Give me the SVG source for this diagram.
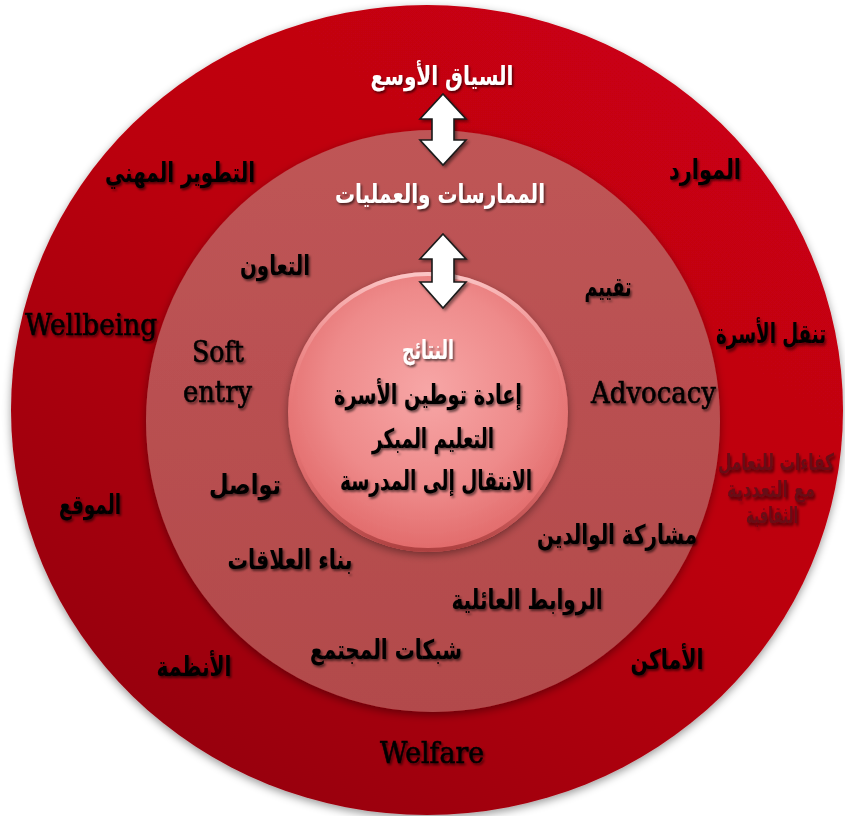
<svg xmlns="http://www.w3.org/2000/svg" width="845" height="816" viewBox="0 0 845 816">
<defs>
<style>
.ar{font-family:"DejaVu Sans",sans-serif;font-weight:bold;font-size:27px;text-anchor:middle;fill:#000;filter:url(#ts)}
.arw{font-family:"DejaVu Sans",sans-serif;font-weight:bold;font-size:26px;text-anchor:middle;fill:#fff;filter:url(#tsw)}
.en{font-family:"DejaVu Serif",serif;font-size:29px;fill:#000;stroke:#000;stroke-width:0.6;filter:url(#ts)}
.cf{font-family:"DejaVu Sans",sans-serif;font-weight:bold;font-size:17px;text-anchor:middle;fill:#680a14;filter:url(#ts)}
.arrow{fill:#fff;stroke:#1a1a1a;stroke-width:1.6;stroke-linejoin:miter;filter:url(#as)}
</style>
<linearGradient id="gOuter" x1="0.8" y1="0.1" x2="0.2" y2="0.9">
<stop offset="0" stop-color="#c90512"/>
<stop offset="0.45" stop-color="#bb0310"/>
<stop offset="1" stop-color="#980010"/>
</linearGradient>
<linearGradient id="gMid" x1="0" y1="0" x2="0" y2="1">
<stop offset="0" stop-color="#bf5556"/>
<stop offset="1" stop-color="#b24a4b"/>
</linearGradient>
<radialGradient id="gIn" cx="0.5" cy="0.42" r="0.6">
<stop offset="0" stop-color="#f7a6a6"/>
<stop offset="0.6" stop-color="#ee8a8a"/>
<stop offset="1" stop-color="#e06767"/>
</radialGradient>
<linearGradient id="gRim" x1="0" y1="0" x2="0" y2="1">
<stop offset="0" stop-color="#ffd6d6" stop-opacity="0.8"/>
<stop offset="0.5" stop-color="#f08080" stop-opacity="0"/>
<stop offset="1" stop-color="#a83c3c" stop-opacity="0.9"/>
</linearGradient>
<filter id="ts" x="-10%" y="-30%" width="130%" height="180%">
<feDropShadow dx="1.5" dy="2" stdDeviation="1.2" flood-color="#000" flood-opacity="0.55"/>
</filter>
<filter id="tsw" x="-10%" y="-30%" width="130%" height="180%">
<feDropShadow dx="1.5" dy="2" stdDeviation="1.2" flood-color="#000" flood-opacity="0.6"/>
</filter>
<filter id="as" x="-40%" y="-20%" width="180%" height="150%">
<feDropShadow dx="2" dy="2" stdDeviation="1.5" flood-color="#000" flood-opacity="0.45"/>
</filter>
<filter id="cs" x="-10%" y="-10%" width="120%" height="120%">
<feDropShadow dx="0" dy="3" stdDeviation="4" flood-color="#000" flood-opacity="0.4"/>
</filter>
</defs>

<g id="rings">
<ellipse cx="427" cy="410" rx="416" ry="405" fill="url(#gOuter)" filter="url(#cs)"/>
<ellipse cx="433" cy="421" rx="287" ry="291" fill="url(#gMid)" filter="url(#cs)"/>
<circle cx="428" cy="412" r="140" fill="url(#gIn)" filter="url(#cs)"/>
<circle cx="428" cy="412" r="138" fill="none" stroke="url(#gRim)" stroke-width="4"/>
</g>

<g id="connectors">
<path class="arrow" d="M443,94 L466,119 L454,119 L454,140 L466,140 L443,165 L420,140 L432,140 L432,119 L420,119 Z"/>
<path class="arrow" d="M443,234 L466,259 L454,259 L454,282 L466,282 L443,308 L420,282 L432,282 L432,259 L420,259 Z"/>
</g>

<g id="wider-context"><text class="arw" x="442" y="85" textLength="143" lengthAdjust="spacingAndGlyphs">السياق الأوسع</text></g>
<g id="practices"><text class="arw" x="440" y="203" textLength="210" lengthAdjust="spacingAndGlyphs">الممارسات والعمليات</text></g>
<g id="outcomes"><text class="arw" x="428" y="359" textLength="52" lengthAdjust="spacingAndGlyphs">النتائج</text></g>

<g id="prof-dev"><text class="ar" x="180" y="182" textLength="150" lengthAdjust="spacingAndGlyphs">التطوير المهني</text></g>
<g id="resources"><text class="ar" x="705" y="179" textLength="72" lengthAdjust="spacingAndGlyphs">الموارد</text></g>
<g id="wellbeing"><text class="en" x="25" y="335" textLength="132" lengthAdjust="spacingAndGlyphs">Wellbeing</text></g>
<g id="family-mobility"><text class="ar" transform="translate(771,343) scale(1,1.35)" x="0" y="0" style="font-size:20px" textLength="110" lengthAdjust="spacingAndGlyphs">تنقل الأسرة</text></g>
<g id="intercultural">
<text class="cf" transform="translate(776,470) scale(1,1.35)" x="0" y="0" textLength="116" lengthAdjust="spacingAndGlyphs">كفاءات للتعامل</text>
<text class="cf" transform="translate(771,497) scale(1,1.35)" x="0" y="0" textLength="88" lengthAdjust="spacingAndGlyphs">مع التعددية</text>
<text class="cf" transform="translate(772,523) scale(1,1.35)" x="0" y="0" textLength="52" lengthAdjust="spacingAndGlyphs">الثقافية</text>
</g>
<g id="location"><text class="ar" x="90" y="514" textLength="62" lengthAdjust="spacingAndGlyphs">الموقع</text></g>
<g id="systems"><text class="ar" x="194" y="676" textLength="75" lengthAdjust="spacingAndGlyphs">الأنظمة</text></g>
<g id="places"><text class="ar" x="667" y="669" textLength="73" lengthAdjust="spacingAndGlyphs">الأماكن</text></g>
<g id="welfare"><text class="en" x="380" y="763" textLength="104" lengthAdjust="spacingAndGlyphs">Welfare</text></g>

<g id="collaboration"><text class="ar" x="275" y="275" textLength="70" lengthAdjust="spacingAndGlyphs">التعاون</text></g>
<g id="assessment"><text class="ar" x="608" y="296" textLength="47" lengthAdjust="spacingAndGlyphs">تقييم</text></g>
<g id="soft-entry">
<text class="en" x="192" y="362" textLength="52" lengthAdjust="spacingAndGlyphs">Soft</text>
<text class="en" x="183" y="402" textLength="69" lengthAdjust="spacingAndGlyphs">entry</text>
</g>
<g id="advocacy"><text class="en" x="591" y="403" textLength="125" lengthAdjust="spacingAndGlyphs">Advocacy</text></g>
<g id="communication"><text class="ar" x="245" y="494" textLength="72" lengthAdjust="spacingAndGlyphs">تواصل</text></g>
<g id="parent-participation"><text class="ar" x="617" y="544" textLength="160" lengthAdjust="spacingAndGlyphs">مشاركة الوالدين</text></g>
<g id="relationships"><text class="ar" x="290" y="569" textLength="125" lengthAdjust="spacingAndGlyphs">بناء العلاقات</text></g>
<g id="family-ties"><text class="ar" x="527" y="609" textLength="151" lengthAdjust="spacingAndGlyphs">الروابط العائلية</text></g>
<g id="community"><text class="ar" x="386" y="659" textLength="152" lengthAdjust="spacingAndGlyphs">شبكات المجتمع</text></g>

<g id="resettlement"><text class="ar" x="428" y="404" textLength="188" lengthAdjust="spacingAndGlyphs">إعادة توطين الأسرة</text></g>
<g id="early-learning"><text class="ar" x="433" y="448" textLength="122" lengthAdjust="spacingAndGlyphs">التعليم المبكر</text></g>
<g id="school-transition"><text class="ar" x="436" y="490" textLength="192" lengthAdjust="spacingAndGlyphs">الانتقال إلى المدرسة</text></g>
</svg>
